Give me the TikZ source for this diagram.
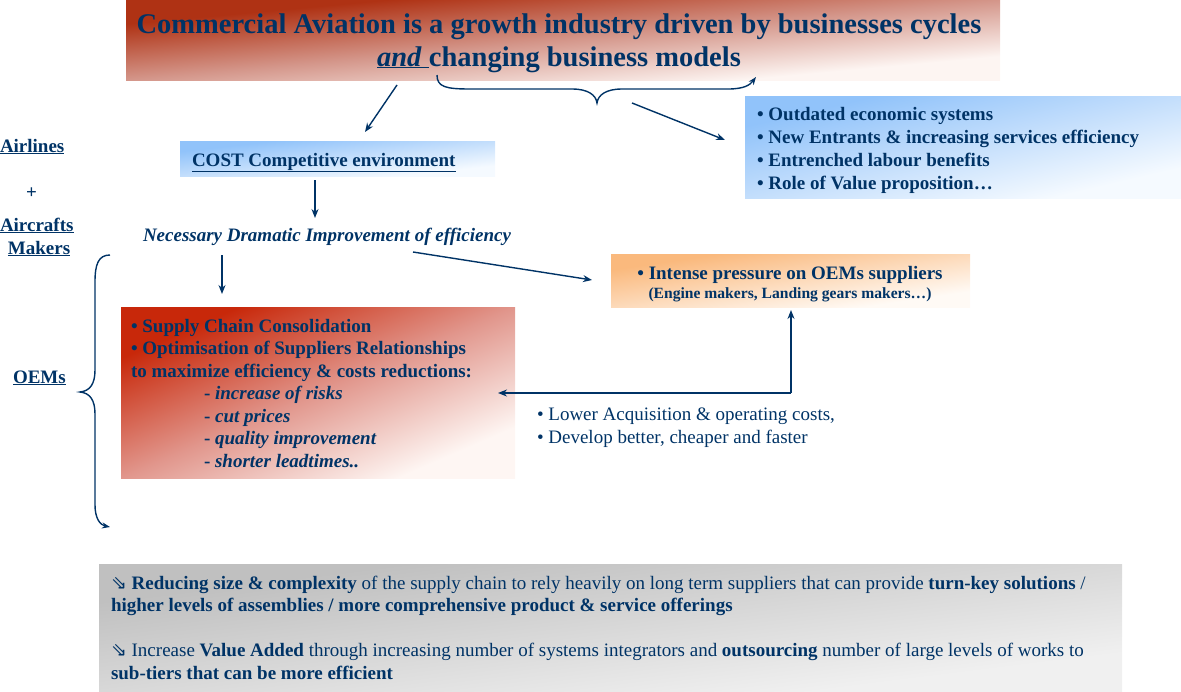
\documentclass[tikz,border=0pt]{standalone}
\usepackage{fontspec}
\setmainfont{Liberation Serif}
\newfontfamily\symfont{DejaVu Sans}
\usetikzlibrary{arrows.meta}
\definecolor{navy}{RGB}{0,51,102}
\definecolor{tdark}{RGB}{175,50,20}
\definecolor{tmid}{RGB}{212,150,138}
\definecolor{tlight}{RGB}{253,245,242}
\definecolor{rdark}{RGB}{200,40,10}
\definecolor{rmid}{RGB}{225,150,140}
\definecolor{rlight}{RGB}{254,246,243}
\definecolor{bdark}{RGB}{145,195,250}
\definecolor{bmid}{RGB}{195,222,252}
\definecolor{blight}{RGB}{245,250,255}
\definecolor{odark}{RGB}{250,185,125}
\definecolor{olight}{RGB}{255,250,245}
\definecolor{gdark}{RGB}{192,192,192}
\definecolor{glight}{RGB}{240,240,240}
% diagonal shaded box: name, x, y, w, h, shading options
\newcommand\myshbox[6]{%
  \begin{scope}[transform canvas={shift={(#2,#3)},xscale=#4/#5}]
    \shade[#6] (0,0) rectangle (#5,#5);
  \end{scope}
  \node[box,minimum width=#4pt,minimum height=#5pt] (#1) at (#2,#3) {};}
\newcommand\hooksym{{\symfont\fontsize{19}{19}\selectfont ⇘}}
\begin{document}
\begin{tikzpicture}[x=1pt,y=-1pt,
  every node/.style={inner sep=0pt,outer sep=0pt,text=navy},
  box/.style={anchor=north west,draw=none},
  ln/.style={anchor=base west,font=\fontsize{19}{23}\selectfont\bfseries},
  lnr/.style={anchor=base west,font=\fontsize{19}{23}\selectfont},
  arr/.style={draw=navy,line width=1.4pt,-{Stealth[length=9pt,width=7pt]}},
  brace/.style={draw=navy,line width=1.4pt}]
\useasboundingbox (0,0) rectangle (1181,691);
% boxes
\myshbox{titlebox}{126}{0}{874}{80}{top color=tdark,bottom color=tlight,middle color=tmid,shading angle=45}
\myshbox{bluebox}{745}{96}{436}{102}{top color=bdark,bottom color=blight,middle color=bmid,shading angle=45}
\myshbox{costbox}{180}{141}{315}{35}{top color=bdark,bottom color=blight,middle color=bmid,shading angle=45}
\myshbox{orangebox}{611}{254}{359}{53}{top color=odark,bottom color=olight,shading angle=45}
\myshbox{redbox}{121}{307}{394}{171}{top color=rdark,bottom color=rlight,middle color=rmid,shading angle=45}
\myshbox{graybox}{99}{564}{1023}{127}{top color=gdark,bottom color=glight,shading angle=45}
% title
\node[anchor=base,font=\fontsize{28.5}{34}\selectfont\bfseries] (t1) at (559,33) {Commercial Aviation is a growth industry driven by businesses cycles};
\node[anchor=base,font=\fontsize{28.5}{34}\selectfont\bfseries] (t2) at (559,66) {\underline{\textit{and}\ }changing business models};
% left labels
\node[ln] (airl) at (0,152) {\underline{Airlines}};
\node[ln] (plus) at (26,198) {+};
\node[ln] (airc) at (0,231) {\underline{Aircrafts}};
\node[ln] (mak) at (8,254) {\underline{Makers}};
\node[ln] (oem) at (13,383) {\underline{OEMs}};
% blue box text
\node[ln] (b1) at (757,120) {• Outdated economic systems};
\node[ln] (b2) at (757,143) {• New Entrants \& increasing services efficiency};
\node[ln] (b3) at (757,166) {• Entrenched labour benefits};
\node[ln] (b4) at (757,189) {• Role of Value proposition…};
% cost
\node[ln] (cost) at (192,166) {\underline{COST Competitive environment}};
\node[ln] (nec) at (143,241) {\itshape Necessary Dramatic Improvement of efficiency};
% orange
\node[anchor=base,font=\fontsize{19}{23}\selectfont\bfseries] (o1) at (790,279) {• Intense pressure on OEMs suppliers};
\node[anchor=base,font=\fontsize{15.6}{18}\selectfont\bfseries] (o2) at (790,298) {(Engine makers, Landing gears makers…)};
% red box text
\node[ln] (r1) at (131,332) {• Supply Chain Consolidation};
\node[ln] (r2) at (131,354) {• Optimisation of Suppliers Relationships};
\node[ln] (r3) at (131,377) {to maximize efficiency \& costs reductions:};
\node[ln] (r4) at (204,399) {- \textit{increase of risks}};
\node[ln] (r5) at (204,422) {- \textit{cut prices}};
\node[ln] (r6) at (204,444) {- \textit{quality improvement}};
\node[ln] (r7) at (204,467) {- \textit{shorter leadtimes..}};
% lower text
\node[lnr] (l1) at (537,420) {• Lower Acquisition \& operating costs,};
\node[lnr] (l2) at (537,443) {• Develop better, cheaper and faster};
% bottom text
\node[lnr] (g1) at (111,589) {\hooksym\ \textbf{Reducing size \& complexity} of the supply chain to rely heavily on long term suppliers that can provide \textbf{turn-key solutions} /};
\node[lnr] (g2) at (111,611) {\textbf{higher levels of assemblies / more comprehensive product \& service offerings}};
\node[lnr] (g3) at (111,656) {\hooksym\ Increase \textbf{Value Added} through increasing number of systems integrators and \textbf{outsourcing} number of large levels of works to};
\node[lnr] (g4) at (111,679) {\textbf{sub-tiers that can be more efficient}};
% connectors
\coordinate (a1s) at (397,85);
\coordinate (a1e) at (365,132);
\coordinate (a2s) at (632,103);
\coordinate (a2e) at (725,140);
\coordinate (a3s) at (315,180);
\coordinate (a3e) at (315,218);
\coordinate (a4s) at (222,255);
\coordinate (a4e) at (222,294);
\coordinate (a5s) at (413,252);
\coordinate (a5e) at (592,280);
\coordinate (cn) at (791,393);
\coordinate (ctop) at (791,310);
\coordinate (cleft) at (498,393);
\draw[arr] (a1s) -- (a1e);
\draw[arr] (a2s) -- (a2e);
\draw[arr] (a3s) -- (a3e);
\draw[arr] (a4s) -- (a4e);
\draw[arr] (a5s) -- (a5e);
\draw[arr] (cn) -- (ctop);
\draw[arr] (cn) -- (cleft);
% top brace
\coordinate (tbs) at (437,75);
\coordinate (tbm) at (597,103);
\coordinate (tbe) at (756,77);
\draw[brace,-{Stealth[length=8pt,width=6pt]}] (tbs) .. controls (437,87) and (446,89) .. (470,89) -- (572,89) .. controls (588,89) and (596,95) .. (tbm) .. controls (598,95) and (606,89) .. (622,89) -- (728,89) .. controls (744,89) and (750,85) .. (tbe);
% left brace
\coordinate (lbs) at (110,255);
\coordinate (lbm) at (80,392);
\coordinate (lbe) at (110,527);
\draw[brace,-{Stealth[length=8pt,width=6pt]}] (lbs) .. controls (98,255) and (95,265) .. (95,282) -- (95,370) .. controls (95,384) and (90,391) .. (lbm) .. controls (90,393) and (95,400) .. (95,414) -- (95,505) .. controls (95,518) and (100,525) .. (lbe);
\end{tikzpicture}
\end{document}
